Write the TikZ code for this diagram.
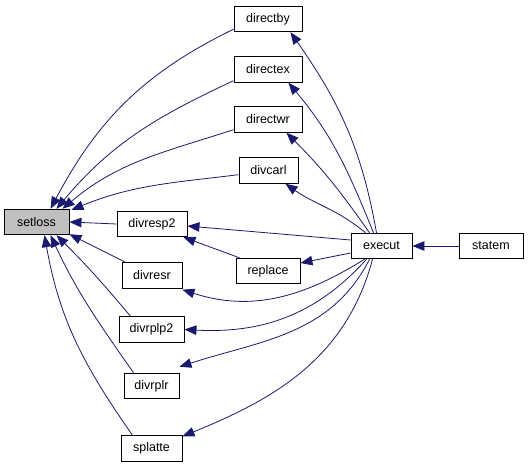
\documentclass[tikz,border=0pt]{standalone}
\usepackage{fontspec}
\setmainfont{Liberation Sans}
\usetikzlibrary{arrows.meta}
\definecolor{edgecol}{RGB}{25,25,112}
\begin{document}
\begin{tikzpicture}[x=1pt,y=-1pt,
  box/.style={draw=black,line width=0.9pt,fill=white,rectangle,inner sep=0pt,
    font=\fontsize{12.5}{15}\selectfont,minimum height=25.5},
  edge/.style={draw=edgecol,line width=0.8pt,-{Triangle[length=12,width=9.5]}},
]
\useasboundingbox (0,0) rectangle (528,468);
\node[box,fill={rgb,255:red,191;green,191;blue,191},minimum width=65] (setloss) at (36.5,222) {setloss};
\node[box,minimum width=68] (directby) at (268,19) {directby};
\node[box,minimum width=68] (directex) at (268,69.5) {directex};
\node[box,minimum width=68] (directwr) at (268,119.5) {directwr};
\node[box,minimum width=59] (divcarl) at (268.5,170.5) {divcarl};
\node[box,minimum width=70] (divresp2) at (152,224) {divresp2};
\node[box,minimum width=64] (replace) at (268,271) {replace};
\node[box,minimum width=60] (divresr) at (152,275.5) {divresr};
\node[box,minimum width=65] (divrplp2) at (151.5,329.5) {divrplp2};
\node[box,minimum width=55] (divrplr) at (151.5,386) {divrplr};
\node[box,minimum width=61] (splatte) at (151.5,448.5) {splatte};
\node[box,minimum width=61] (execut) at (381.5,246) {execut};
\node[box,minimum width=64] (statem) at (491,246) {statem};

% into setloss
\draw[edge] ([yshift=3]directby.south west) to[out=206,in=62] ([xshift=14]setloss.north);
\draw[edge] ([yshift=2]directex.south west) to[out=205,in=50] ([xshift=20]setloss.north);
\draw[edge] ([yshift=3]directwr.south west) to[out=198,in=40] ([xshift=26]setloss.north);
\draw[edge] ([yshift=9]divcarl.south west) to[out=187,in=22] ([xshift=2,yshift=-1]setloss.north east);
\draw[edge] (divresp2.west) -- (setloss.east);
\draw[edge] ([xshift=4]divresr.north west) -- ([yshift=1]setloss.south east);
\draw[edge] ([xshift=12]divrplp2.north west) to[out=130,in=-45] ([xshift=20]setloss.south);
\draw[edge] ([xshift=10]divrplr.north west) to[out=125,in=-65] ([xshift=14]setloss.south);
\draw[edge] ([xshift=12]splatte.north west) to[out=125,in=-80] ([xshift=8]setloss.south);

% from execut
\draw[edge] ([xshift=-5]execut.north) to[out=100,in=-55] ([xshift=-12]directby.south east);
\draw[edge] ([xshift=-8]execut.north) to[out=112,in=-50] ([xshift=-14]directex.south east);
\draw[edge] ([xshift=-12]execut.north) to[out=125,in=-45] ([xshift=-16]directwr.south east);
\draw[edge] ([xshift=-16]execut.north) to[out=140,in=-35] ([xshift=-13]divcarl.south east);
\draw[edge] ([yshift=6]execut.west) -- ([yshift=-2]divresp2.east);
\draw[edge] ([yshift=-7]execut.west) -- ([yshift=8]replace.east);
\draw[edge] ([xshift=4]replace.north west) -- ([xshift=-4]divresp2.south east);
\draw[edge] ([xshift=14]execut.south west) to[out=212,in=-18] ([yshift=-1]divresr.south east);
\draw[edge] ([xshift=16]execut.south west) to[out=228,in=-3] (divrplp2.east);
\draw[edge] ([xshift=19]execut.south west) to[out=243,in=18] ([yshift=6]divrplr.north east);
\draw[edge] ([xshift=22]execut.south west) to[out=255,in=22] ([yshift=-1]splatte.north east);
\draw[edge] (statem.west) -- (execut.east);
\end{tikzpicture}
\end{document}
